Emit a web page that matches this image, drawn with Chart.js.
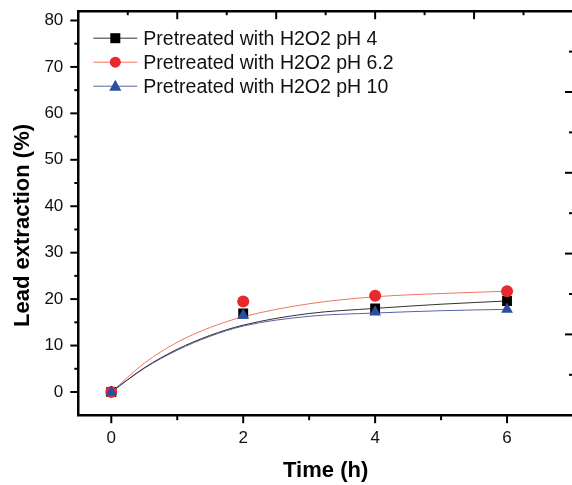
<!DOCTYPE html>
<html lang="en">
<head>
    <meta charset="UTF-8">
    <title>Lead extraction</title>
    <script src="https://cdn.jsdelivr.net/npm/chart.js"></script>
    <style>
        html, body {
            margin: 0;
            padding: 0;
            background: #fff;
            overflow: hidden;
        }
        #leadChart {
            display: block;
        }
    </style>
</head>
<body>
    <canvas id="leadChart" width="580" height="485"></canvas>

    <script>
        // measured points
        const timeH = [0, 2, 4, 6];
        const extractPh4 = [0, 16.9, 18.0, 19.6];
        const extractPh62 = [0, 19.5, 20.7, 21.7];
        const extractPh10 = [0, 16.5, 17.2, 17.8];

        // fitted curves
        const fitTime = [0, 0.5, 1, 1.5, 2, 3, 4, 5, 6];
        const fitPh4 = [0, 5.2, 9.2, 12.2, 14.4, 16.9, 18.0, 18.9, 19.6];
        const fitPh62 = [0, 6.2, 10.7, 13.9, 16.2, 19.0, 20.5, 21.2, 21.7];
        const fitPh10 = [0, 5.1, 9.0, 12.0, 14.2, 16.3, 17.0, 17.5, 17.8];

        const seriesNames = ['Pretreated with H2O2 pH 4', 'Pretreated with H2O2 pH 6.2', 'Pretreated with H2O2 pH 10'];

        const xTicks = [0, 2, 4, 6];
        const xMinorTicks = [1, 3, 5];
        const yTicks = [0, 10, 20, 30, 40, 50, 60, 70, 80];
        const yMinorTicks = [5, 15, 25, 35, 45, 55, 65, 75];
        // frame ticks on top and right edge (own 0-10 scale)
        const frameTicks = [1, 2, 3, 4, 5, 6, 7, 8, 9];

        const FONT = "'Liberation Sans', Arial, sans-serif";
        const lineColors = ['#333333', '#f07562', '#5a62a8'];
        const markColors = ['#000000', '#e8282c', '#2b4e9e'];
        const markStyles = ['rect', 'circle', 'triangle'];

        const pts = (xs, ys) => xs.map((x, i) => ({ x: x, y: ys[i] }));

        function drawMarker(ctx, style, x, y, color) {
            ctx.fillStyle = color;
            ctx.beginPath();
            if (style === 'rect') {
                ctx.rect(x - 5, y - 5, 10, 10);
            } else if (style === 'circle') {
                ctx.arc(x, y, 5.5, 0, Math.PI * 2);
            } else {
                ctx.moveTo(x, y - 6.5);
                ctx.lineTo(x + 6, y + 4.5);
                ctx.lineTo(x - 6, y + 4.5);
                ctx.closePath();
            }
            ctx.fill();
        }

        // tick marks on all four sides + Origin style legend
        const frameAndLegend = {
            id: 'frameAndLegend',
            afterDraw(chart) {
                const { ctx, chartArea: a, scales } = chart;
                ctx.save();
                ctx.strokeStyle = '#000';
                ctx.lineWidth = 2;
                const seg = (x1, y1, x2, y2) => {
                    ctx.beginPath();
                    ctx.moveTo(x1, y1);
                    ctx.lineTo(x2, y2);
                    ctx.stroke();
                };
                xTicks.forEach(v => { const x = scales.x.getPixelForValue(v); seg(x, a.bottom, x, a.bottom + 8); });
                xMinorTicks.forEach(v => { const x = scales.x.getPixelForValue(v); seg(x, a.bottom, x, a.bottom + 5); });
                yTicks.forEach(v => { const y = scales.y.getPixelForValue(v); seg(a.left - 8, y, a.left, y); });
                yMinorTicks.forEach(v => { const y = scales.y.getPixelForValue(v); seg(a.left - 4, y, a.left, y); });
                frameTicks.forEach(v => {
                    const len = v % 2 === 0 ? 8 : 4;
                    const x = scales.x2.getPixelForValue(v);
                    seg(x, a.top, x, a.top + len);
                    const y = scales.y2.getPixelForValue(v);
                    seg(a.right - len, y, a.right, y);
                });

                // legend
                const lx = a.left + 15;
                const ly = a.top + 27;
                ctx.font = '19.5px ' + FONT;
                ctx.textBaseline = 'middle';
                ctx.textAlign = 'left';
                seriesNames.forEach((name, i) => {
                    const y = ly + i * 24;
                    ctx.strokeStyle = lineColors[i];
                    ctx.lineWidth = 1;
                    seg(lx, y, lx + 44, y);
                    drawMarker(ctx, markStyles[i], lx + 22, y, markColors[i]);
                    ctx.fillStyle = '#111';
                    ctx.fillText(name, lx + 50, y + 1);
                });
                ctx.restore();
            }
        };

        const fitSets = [fitPh4, fitPh62, fitPh10].map((ys, i) => ({
            label: seriesNames[i] + ' fit',
            data: pts(fitTime, ys),
            showLine: true,
            borderColor: lineColors[i],
            borderWidth: 1,
            pointRadius: 0,
            cubicInterpolationMode: 'monotone',
            order: 10
        }));

        const markSets = [extractPh4, extractPh62, extractPh10].map((ys, i) => ({
            label: seriesNames[i],
            data: pts(timeH, ys),
            showLine: false,
            pointStyle: markStyles[i],
            pointRadius: [7, 6, 6.8][i],
            pointBackgroundColor: markColors[i],
            pointBorderColor: markColors[i],
            pointBorderWidth: 0,
            order: 3 - i
        }));

        const hiddenTick = 'rgba(0,0,0,0)';

        new Chart(document.getElementById('leadChart'), {
            type: 'scatter',
            data: { datasets: fitSets.concat(markSets) },
            options: {
                responsive: false,
                animation: false,
                layout: { padding: { top: 11, right: 2, bottom: 1, left: 0 } },
                plugins: {
                    legend: { display: false },
                    tooltip: { enabled: false }
                },
                scales: {
                    x: {
                        type: 'linear',
                        position: 'bottom',
                        min: -0.5,
                        max: 7,
                        afterBuildTicks: s => { s.ticks = xTicks.map(v => ({ value: v })); },
                        grid: { drawOnChartArea: false, drawTicks: true, tickLength: 12, tickColor: hiddenTick },
                        border: { display: true, color: '#000', width: 2.5 },
                        ticks: { padding: 1, color: '#111', font: { family: FONT, size: 17 } },
                        title: {
                            display: true,
                            text: 'Time (h)',
                            color: '#000',
                            font: { family: FONT, size: 22, weight: 'bold' },
                            padding: { top: 8, bottom: 0 }
                        }
                    },
                    y: {
                        type: 'linear',
                        position: 'left',
                        min: -5,
                        max: 82,
                        afterBuildTicks: s => { s.ticks = yTicks.map(v => ({ value: v })); },
                        grid: { drawOnChartArea: false, drawTicks: true, tickLength: 14, tickColor: hiddenTick },
                        border: { display: true, color: '#000', width: 2.5 },
                        ticks: { padding: 1, color: '#111', font: { family: FONT, size: 17 } },
                        title: {
                            display: true,
                            // trailing spaces push the title a little below the axis centre, as in the source
                            text: 'Lead extraction (%)    ',
                            color: '#000',
                            font: { family: FONT, size: 22, weight: 'bold' },
                            padding: { top: 10, bottom: 7 }
                        }
                    },
                    x2: {
                        type: 'linear',
                        position: 'top',
                        min: 0,
                        max: 10,
                        grid: { drawOnChartArea: false, drawTicks: false },
                        border: { display: true, color: '#000', width: 2.5 },
                        ticks: { display: false }
                    },
                    y2: {
                        type: 'linear',
                        position: 'right',
                        min: 0,
                        max: 10,
                        grid: { drawOnChartArea: false, drawTicks: false },
                        border: { display: false },
                        ticks: { display: false }
                    }
                }
            },
            plugins: [frameAndLegend]
        });
    </script>
</body>
</html>
